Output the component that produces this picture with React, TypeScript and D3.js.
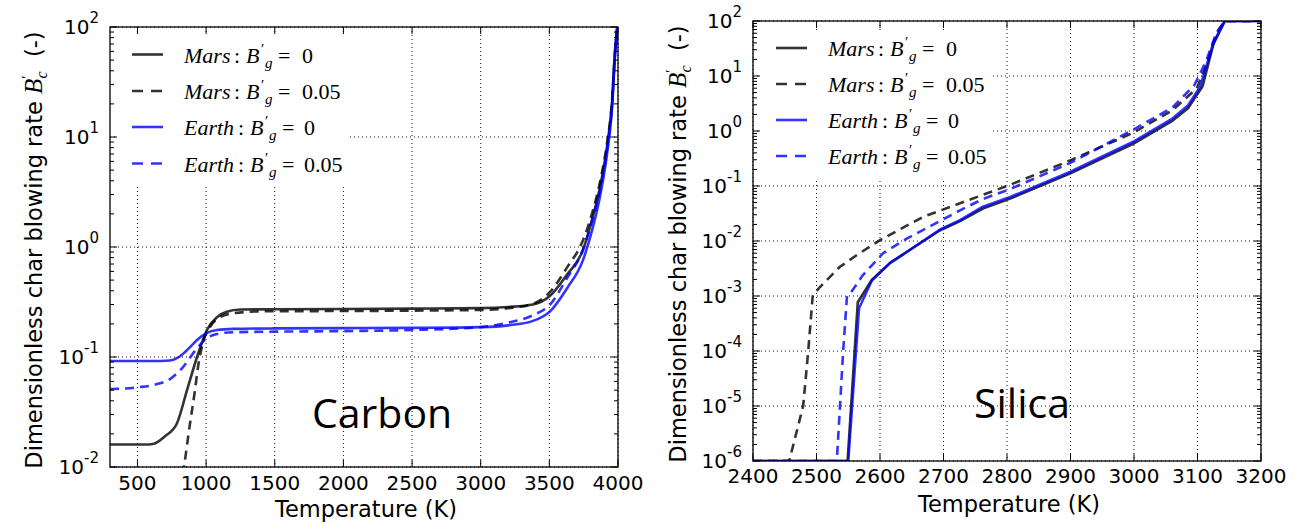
import React from 'react';
import * as d3 from 'd3';

type Pt = [number, number];

// ---- Carbon: char blowing rate B'c vs temperature (K) ----
const carbonMars0: Pt[] = [
  [300, 0.016], [550, 0.016], [620, 0.0163], [700, 0.019], [788, 0.025], [861, 0.05],
  [934, 0.1], [1006, 0.176], [1079, 0.23], [1150, 0.258], [1250, 0.27], [1500, 0.272],
  [2000, 0.273], [2500, 0.275], [3000, 0.278], [3200, 0.285], [3381, 0.3], [3505, 0.36],
  [3628, 0.56], [3745, 0.94], [3810, 1.76], [3869, 3.5], [3920, 8.1], [3956, 20],
  [3978, 58], [3995, 100],
];
const carbonMars005: Pt[] = [
  [815, 0.0063], [839, 0.01], [883, 0.025], [919, 0.05], [941, 0.081], [977, 0.135],
  [1028, 0.187], [1101, 0.23], [1196, 0.25], [1400, 0.26], [2000, 0.262], [2500, 0.264],
  [3000, 0.268], [3200, 0.278], [3381, 0.305], [3505, 0.39], [3628, 0.65], [3745, 1.15],
  [3810, 2.0], [3869, 3.9], [3920, 8.8], [3956, 21], [3978, 60], [3995, 100],
];
const carbonEarth0: Pt[] = [
  [300, 0.092], [600, 0.092], [737, 0.093], [790, 0.098], [824, 0.105], [883, 0.123],
  [934, 0.143], [1006, 0.166], [1079, 0.176], [1200, 0.18], [1500, 0.182], [2000, 0.183],
  [2500, 0.184], [3000, 0.187], [3200, 0.194], [3381, 0.213], [3505, 0.26], [3628, 0.42],
  [3745, 0.76], [3810, 1.4], [3869, 2.9], [3920, 7.0], [3956, 18], [3978, 55], [3995, 100],
];
const carbonEarth005: Pt[] = [
  [300, 0.051], [500, 0.053], [650, 0.057], [737, 0.063], [824, 0.079], [934, 0.12],
  [1006, 0.148], [1079, 0.162], [1200, 0.168], [1500, 0.17], [2000, 0.172], [2500, 0.176],
  [3000, 0.187], [3200, 0.205], [3381, 0.24], [3505, 0.3], [3628, 0.52], [3745, 0.95],
  [3810, 1.7], [3869, 3.3], [3920, 7.8], [3956, 19], [3978, 57], [3995, 100],
];

// ---- Silica: char blowing rate B'c vs temperature (K) ----
const silicaMars0: Pt[] = [
  [2400, 1e-6], [2549, 1e-6], [2565, 7.7e-4], [2587, 1.95e-3], [2616, 4e-3], [2642, 6.3e-3],
  [2694, 0.0155], [2726, 0.023], [2762, 0.039], [2805, 0.059], [2899, 0.168], [2998, 0.58],
  [3061, 1.55], [3085, 2.6], [3108, 6.5], [3125, 38], [3143, 100], [3200, 100],
];
const silicaMars005: Pt[] = [
  [2400, 1e-6], [2457, 1e-6], [2479, 1e-5], [2487, 1e-4], [2494, 1e-3], [2505, 1.44e-3],
  [2537, 3.4e-3], [2564, 5.6e-3], [2600, 0.0104], [2668, 0.0275], [2762, 0.069],
  [2805, 0.105], [2899, 0.29], [2998, 0.92], [3061, 2.4], [3099, 6.0], [3115, 17],
  [3130, 60], [3143, 100], [3200, 100],
];
const silicaEarth0: Pt[] = [
  [2400, 1e-6], [2550, 1e-6], [2567, 6e-4], [2587, 1.9e-3], [2616, 4e-3], [2642, 6.3e-3],
  [2694, 0.016], [2726, 0.024], [2762, 0.042], [2805, 0.063], [2899, 0.18], [2998, 0.63],
  [3061, 1.7], [3085, 2.9], [3104, 6.3], [3125, 40], [3143, 100], [3200, 100],
];
const silicaEarth005: Pt[] = [
  [2400, 1e-6], [2532, 1e-6], [2537, 1e-5], [2542, 1e-4], [2548, 1e-3], [2553, 1.1e-3],
  [2573, 2.4e-3], [2605, 6e-3], [2642, 0.011], [2694, 0.023], [2726, 0.036], [2762, 0.058],
  [2805, 0.088], [2899, 0.26], [2998, 1.04], [3061, 2.7], [3095, 6.8], [3113, 18],
  [3130, 62], [3143, 100], [3200, 100],
];

// ---- Axes ----
const carbonXDomain: [number, number] = [300, 4000];
const carbonXTicks = [500, 1000, 1500, 2000, 2500, 3000, 3500, 4000];
const carbonYExponents = [-2, -1, 0, 1, 2];
const silicaXDomain: [number, number] = [2400, 3200];
const silicaXTicks = [2400, 2500, 2600, 2700, 2800, 2900, 3000, 3100, 3200];
const silicaYExponents = [-6, -5, -4, -3, -2, -1, 0, 1, 2];

// ---- Legend ----
const legendPlanets = ['Mars', 'Mars', 'Earth', 'Earth'];
const legendBg = ['0', '0.05', '0', '0.05'];

const BLACK = '#000000';
const BLUE = '#0000ff';
const seriesStyle = [
  { color: BLACK, dash: undefined as string | undefined },
  { color: BLACK, dash: '9,6' },
  { color: BLUE, dash: undefined as string | undefined },
  { color: BLUE, dash: '9,6' },
];

const SANS = 'DejaVu Sans, sans-serif';
const SERIF = 'Liberation Serif, DejaVu Serif, serif';

type Box = { l: number; r: number; t: number; b: number };

interface PanelProps {
  id: string;
  box: Box;
  xDomain: [number, number];
  xTicks: number[];
  yExps: number[];
  series: Pt[][];
  smooth: boolean;
  legendLineX: [number, number];
  legendTextX: number;
  legendRowY: number[];
  legendBgRect: Box;
  title: string;
  titleX: number;
  titleY: number;
  yLabelX: number;
  tickLabelDy: number;
  xLabelDy: number;
}

function LegendLabel({ x, y, planet, value }: { x: number; y: number; planet: string; value: string }) {
  const w = planet === 'Earth' ? 4 : 0;
  return (
    <text y={y} fontFamily={SERIF} fontSize={22} fill="#000">
      <tspan x={x} fontStyle="italic">{planet}</tspan>
      <tspan x={x + 50 + w}>:</tspan>
      <tspan x={x + 62 + w} fontStyle="italic">B</tspan>
      <tspan x={x + 77 + w} dy={-9} fontSize={15}>′</tspan>
      <tspan x={x + 81 + w} dy={14} fontSize={15} fontStyle="italic">g</tspan>
      <tspan x={x + 94 + w} dy={-5}>=</tspan>
      <tspan x={x + 118 + w * 0.5}>{value}</tspan>
    </text>
  );
}

function Panel(p: PanelProps) {
  const { box } = p;
  const lo = p.yExps[0];
  const hi = p.yExps[p.yExps.length - 1];
  const x = d3.scaleLinear().domain(p.xDomain).range([box.l, box.r]);
  const y = d3.scaleLog().domain([Math.pow(10, lo), Math.pow(10, hi)]).range([box.b, box.t]);
  const line = d3
    .line<Pt>()
    .x((d) => x(d[0]))
    .y((d) => y(d[1]))
    .curve(p.smooth ? d3.curveMonotoneX : d3.curveLinear);

  const minor: number[] = [];
  for (let e = lo; e < hi; e++) {
    for (let k = 2; k <= 9; k++) minor.push(k * Math.pow(10, e));
  }
  const cx = (box.l + box.r) / 2;
  const cy = (box.t + box.b) / 2;
  const gridStyle = { stroke: '#111', strokeWidth: 1, strokeDasharray: '1,3' };

  return (
    <g>
      <defs>
        <clipPath id={p.id}>
          <rect x={box.l} y={box.t} width={box.r - box.l} height={box.b - box.t} />
        </clipPath>
      </defs>
      <rect x={box.l} y={box.t} width={box.r - box.l} height={box.b - box.t} fill="#fff" />
      {/* grid */}
      {p.xTicks.map((t) => (
        <line key={'gx' + t} x1={x(t)} x2={x(t)} y1={box.t} y2={box.b} {...gridStyle} />
      ))}
      {p.yExps.map((e) => (
        <line key={'gy' + e} x1={box.l} x2={box.r} y1={y(Math.pow(10, e))} y2={y(Math.pow(10, e))} {...gridStyle} />
      ))}
      {/* curves */}
      <g clipPath={`url(#${p.id})`}>
        {p.series.map((s, i) => (
          <path
            key={'s' + i}
            d={line(s) || ''}
            fill="none"
            stroke={seriesStyle[i].color}
            strokeOpacity={0.8}
            strokeWidth={2.6}
            strokeDasharray={seriesStyle[i].dash}
            strokeLinejoin="round"
          />
        ))}
      </g>
      {/* legend */}
      <rect
        x={p.legendBgRect.l}
        y={p.legendBgRect.t}
        width={p.legendBgRect.r - p.legendBgRect.l}
        height={p.legendBgRect.b - p.legendBgRect.t}
        fill="#fff"
      />
      {legendPlanets.map((pl, i) => (
        <g key={'lg' + i}>
          <line
            x1={p.legendLineX[0]}
            x2={p.legendLineX[1]}
            y1={p.legendRowY[i]}
            y2={p.legendRowY[i]}
            stroke={seriesStyle[i].color}
            strokeOpacity={0.8}
            strokeWidth={2.6}
            strokeDasharray={seriesStyle[i].dash ? '11,8' : undefined}
          />
          <LegendLabel x={p.legendTextX} y={p.legendRowY[i] + 8} planet={pl} value={legendBg[i]} />
        </g>
      ))}
      {/* ticks */}
      {p.xTicks.map((t) => (
        <g key={'tx' + t}>
          <line x1={x(t)} x2={x(t)} y1={box.b} y2={box.b - 7} stroke="#000" strokeWidth={1} />
          <line x1={x(t)} x2={x(t)} y1={box.t} y2={box.t + 7} stroke="#000" strokeWidth={1} />
          <text x={x(t)} y={box.b + p.tickLabelDy} textAnchor="middle" fontFamily={SANS} fontSize={20} fill="#000">
            {t}
          </text>
        </g>
      ))}
      {p.yExps.map((e) => {
        const yy = y(Math.pow(10, e));
        return (
          <g key={'ty' + e}>
            <line x1={box.l} x2={box.l + 7} y1={yy} y2={yy} stroke="#000" strokeWidth={1} />
            <line x1={box.r} x2={box.r - 7} y1={yy} y2={yy} stroke="#000" strokeWidth={1} />
            <text x={box.l - 11} y={yy + 7} textAnchor="end" fontFamily={SANS} fontSize={20} fill="#000">
              10
              <tspan dy={-11} fontSize={15}>
                {String(e)}
              </tspan>
            </text>
          </g>
        );
      })}
      {minor.map((v, i) => (
        <g key={'mn' + i}>
          <line x1={box.l} x2={box.l + 4} y1={y(v)} y2={y(v)} stroke="#000" strokeWidth={1} />
          <line x1={box.r} x2={box.r - 4} y1={y(v)} y2={y(v)} stroke="#000" strokeWidth={1} />
        </g>
      ))}
      {/* frame */}
      <rect
        x={box.l}
        y={box.t}
        width={box.r - box.l}
        height={box.b - box.t}
        fill="none"
        stroke="#000"
        strokeWidth={1.3}
      />
      {/* axis labels */}
      <text x={cx + 2} y={box.b + p.xLabelDy} textAnchor="middle" fontFamily={SANS} fontSize={22.5} fill="#000">
        Temperature (K)
      </text>
      <text
        transform={`translate(${p.yLabelX},${cy + 3}) rotate(-90)`}
        textAnchor="middle"
        fontFamily={SANS}
        fontSize={22.5}
        fill="#000"
      >
        {'Dimensionless char blowing rate '}
        <tspan fontFamily={SERIF} fontStyle="italic" fontSize={25}>
          B
        </tspan>
        <tspan dy={-10} fontSize={15} fontFamily={SERIF}>
          ′
        </tspan>
        <tspan dx={-3} dy={15} fontSize={16} fontFamily={SERIF} fontStyle="italic">
          c
        </tspan>
        <tspan dy={-5}>{'\u00a0\u00a0(-)'}</tspan>
      </text>
      {/* material label */}
      <text x={p.titleX} y={p.titleY} fontFamily="Open Sans, Lato, sans-serif" fontSize={41} fill="#000">
        {p.title}
      </text>
    </g>
  );
}

export default function App() {
  return (
    <div style={{ position: 'absolute', left: 0, top: 0 }}>
      <svg width={1294} height={523} viewBox="0 0 1294 523" style={{ display: 'block', background: '#fff' }}>
        <rect width={1294} height={523} fill="#fff" />
        <Panel
          id="clip-carbon"
          box={{ l: 110, r: 618, t: 27, b: 467 }}
          xDomain={carbonXDomain}
          xTicks={carbonXTicks}
          yExps={carbonYExponents}
          series={[carbonMars0, carbonMars005, carbonEarth0, carbonEarth005]}
          smooth={true}
          legendLineX={[132, 163]}
          legendTextX={184}
          legendRowY={[54.5, 91, 127, 163.5]}
          legendBgRect={{ l: 116, r: 350, t: 34, b: 186 }}
          title="Carbon"
          titleX={312}
          titleY={428}
          yLabelX={42}
          tickLabelDy={23}
          xLabelDy={50}
        />
        <Panel
          id="clip-silica"
          box={{ l: 753, r: 1261, t: 21, b: 461 }}
          xDomain={silicaXDomain}
          xTicks={silicaXTicks}
          yExps={silicaYExponents}
          series={[silicaMars0, silicaMars005, silicaEarth0, silicaEarth005]}
          smooth={false}
          legendLineX={[776, 807]}
          legendTextX={828}
          legendRowY={[48, 84, 120, 156]}
          legendBgRect={{ l: 759, r: 993, t: 30, b: 180 }}
          title="Silica"
          titleX={974}
          titleY={418}
          yLabelX={686}
          tickLabelDy={22}
          xLabelDy={51}
        />
      </svg>
    </div>
  );
}
